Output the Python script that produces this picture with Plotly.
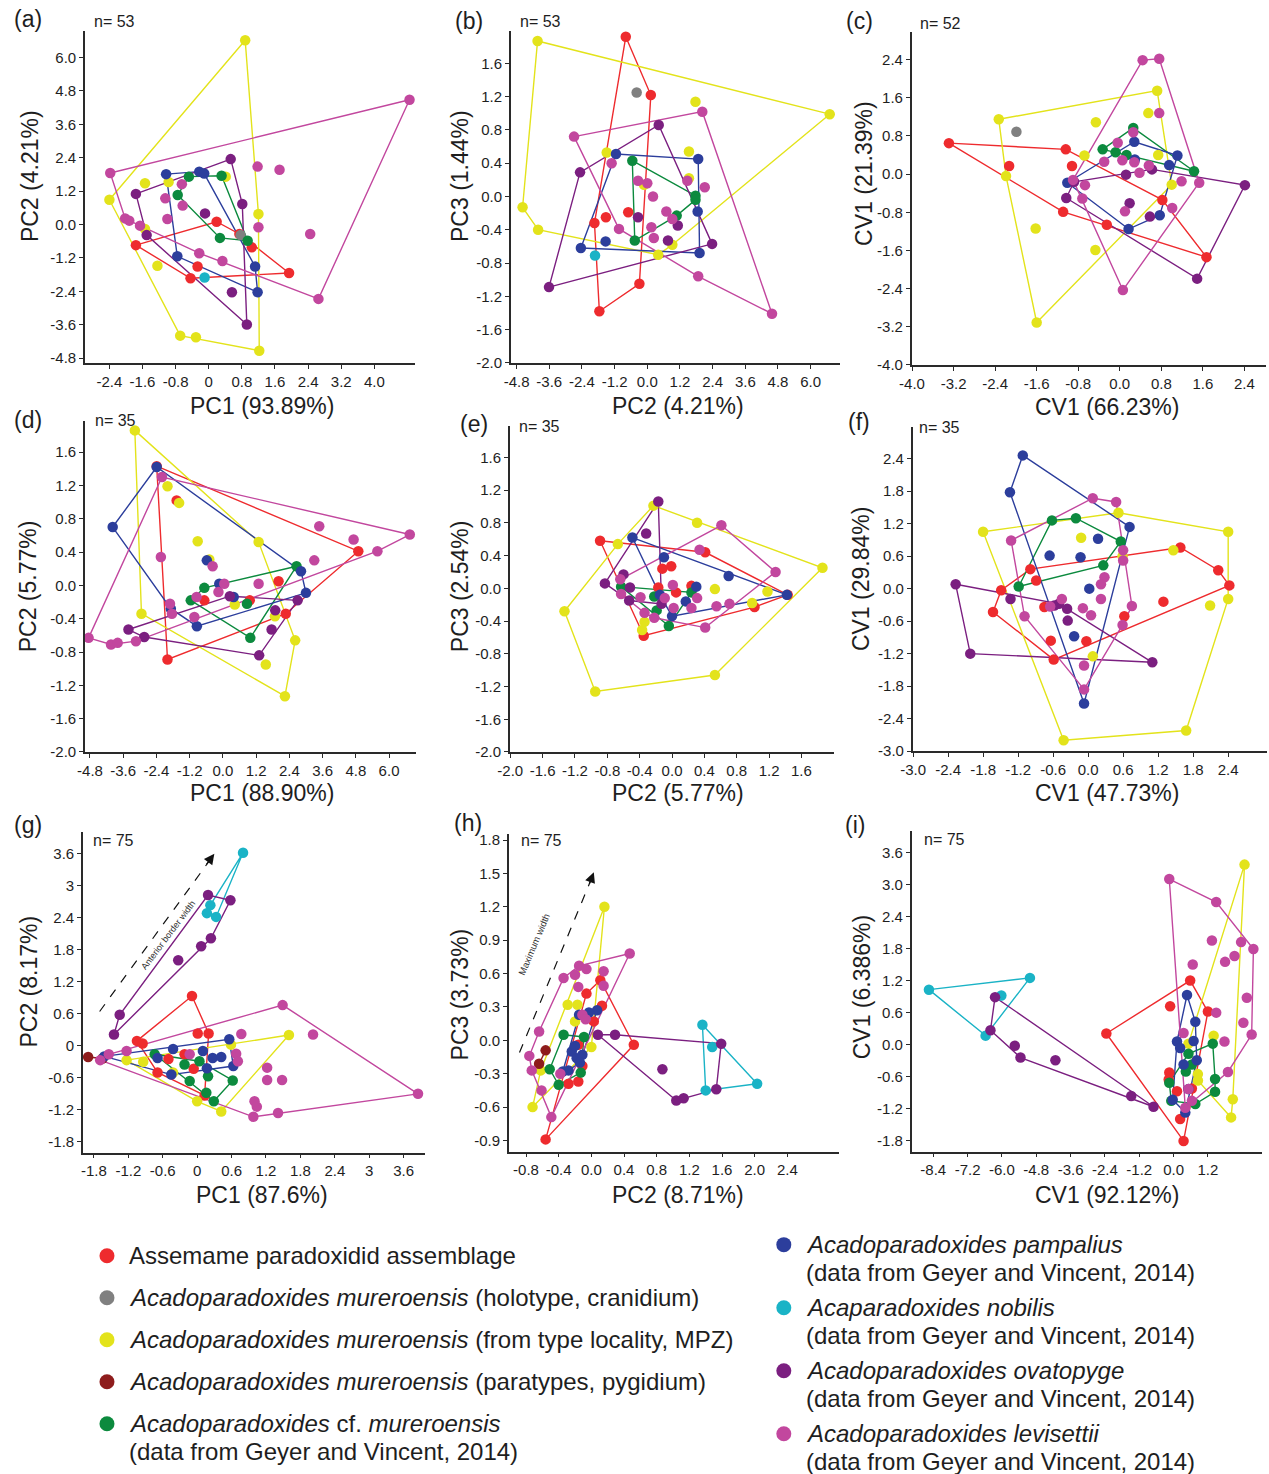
import plotly.graph_objects as go

W, H = 1269, 1474
FONT = "Liberation Sans, Arial, Helvetica, sans-serif"
NARROW = "Liberation Sans Narrow, Liberation Sans, Arial, sans-serif"

GROUPS = ["red", "gray", "yellow", "darkred", "green", "blue", "cyan", "purple", "magenta"]
COLORS = {
    "red": "#EE2B2E", "gray": "#808080", "yellow": "#E3E31B", "darkred": "#8E1C1C",
    "green": "#0C8A3E", "blue": "#2C3E9C", "cyan": "#1AB3C6", "purple": "#7B1F80",
    "magenta": "#C2479E",
}
LEGEND_LABELS = [
    ["Assemame paradoxidid assemblage"],
    ["<i>Acadoparadoxides mureroensis</i> (holotype, cranidium)"],
    ["<i>Acadoparadoxides mureroensis</i> (from type locality, MPZ)"],
    ["<i>Acadoparadoxides mureroensis</i> (paratypes, pygidium)"],
    ["<i>Acadoparadoxides</i> cf. <i>mureroensis</i>", "(data from Geyer and Vincent, 2014)"],
    ["<i>Acadoparadoxides pampalius</i>", "(data from Geyer and Vincent, 2014)"],
    ["<i>Acaparadoxides nobilis</i>", "(data from Geyer and Vincent, 2014)"],
    ["<i>Acadoparadoxides ovatopyge</i>", "(data from Geyer and Vincent, 2014)"],
    ["<i>Acadoparadoxides levisettii</i>", "(data from Geyer and Vincent, 2014)"],
]

# ---------------- data ----------------
DATA_A = {
    "red": [(0.19, 0.10), (-1.76, -0.74), (0.74, -0.34), (1.04, -0.82), (1.94, -1.74), (-0.27, -1.51), (-0.44, -1.93)],
    "gray": [(0.77, -0.38)],
    "yellow": [(0.88, 6.62), (-2.40, 0.89), (-1.54, 1.48), (-0.97, 1.53), (-1.24, -1.48), (-1.54, -0.16),
               (-0.69, -3.99), (-0.31, -4.05), (1.22, -4.53), (1.20, 0.38), (0.41, 1.72)],
    "green": [(-0.48, 1.72), (-0.75, 1.06), (0.27, -0.48), (0.94, -0.58), (0.31, 1.75)],
    "blue": [(-1.03, 1.81), (-0.23, 1.90), (-0.11, 1.83), (-0.76, -1.14), (1.12, -1.51), (1.18, -2.43)],
    "cyan": [(-0.10, -1.90)],
    "purple": [(0.53, 2.35), (-1.76, 1.10), (-1.50, -0.38), (-0.09, 0.40), (0.81, 0.74), (0.56, -2.43), (0.92, -3.59)],
    "magenta": [(-2.38, 1.85), (-2.02, 0.22), (-1.92, 0.14), (-1.66, -0.04), (-1.05, 0.94), (-1.00, 0.20),
                (-0.65, 1.45), (-0.63, 0.68), (-0.23, -1.03), (0.33, -1.31), (1.18, 2.08), (1.71, 1.97),
                (1.20, -0.10), (2.45, -0.34), (2.65, -2.67), (4.85, 4.48)],
}
DATA_B = {
    "red": [(-0.79, 1.92), (0.13, 1.22), (-0.29, -1.05), (-1.76, -1.38), (-1.94, -0.32), (-1.52, -0.25), (-0.70, -0.19)],
    "gray": [(-0.39, 1.25)],
    "yellow": [(-4.03, 1.87), (-4.58, -0.13), (-4.01, -0.40), (-1.49, 0.53), (-0.12, 0.14), (0.40, -0.70),
               (0.92, -0.58), (1.53, 0.54), (1.53, 0.22), (1.77, 1.14), (6.70, 0.99)],
    "green": [(-0.55, 0.43), (1.77, 0.01), (1.77, -0.04), (1.08, -0.23), (-0.46, -0.53)],
    "blue": [(-1.15, 0.51), (1.87, 0.45), (-2.44, -0.62), (-1.53, -0.54), (1.85, -0.18), (1.92, -0.68)],
    "cyan": [(-1.92, -0.71)],
    "purple": [(0.42, 0.86), (-2.47, 0.29), (-3.61, -1.09), (2.38, -0.57), (-0.34, -0.25), (0.76, -0.53), (1.12, -0.35)],
    "magenta": [(-2.69, 0.72), (2.02, 1.02), (4.58, -1.41), (1.87, -0.96), (-1.04, -0.39), (-1.31, 0.40),
                (-0.34, 0.19), (0.0, 0.16), (0.21, 0.0), (0.70, -0.18), (0.92, -0.27), (0.15, -0.37),
                (0.24, -0.50), (1.47, 0.19), (2.11, 0.11)],
}
DATA_C = {
    "red": [(-3.29, 0.65), (-1.04, 0.52), (-2.13, 0.17), (-0.92, 0.17), (-1.09, -0.79), (-0.25, -1.06),
            (0.82, -0.54), (1.67, -1.74)],
    "gray": [(-1.99, 0.89)],
    "yellow": [(-2.33, 1.15), (0.72, 1.75), (-2.19, -0.04), (-1.60, -3.11), (-1.62, -1.14), (-0.47, -1.59),
               (-0.46, 1.09), (-0.68, 0.39), (0.55, 1.28), (0.74, 0.40), (1.0, -0.22)],
    "green": [(-0.33, 0.52), (-0.08, 0.46), (0.13, 0.40), (0.26, 0.97), (1.43, 0.06)],
    "blue": [(0.28, 0.68), (1.11, 0.39), (0.95, 0.19), (-1.01, -0.18), (0.17, -1.15), (0.77, -0.86), (0.29, 0.31)],
    "purple": [(-1.03, -0.50), (2.41, -0.23), (1.49, -2.19), (0.12, -0.01), (0.62, 0.10), (0.19, -0.61),
               (0.58, -0.89), (-0.88, -0.16)],
    "magenta": [(0.44, 2.39), (0.76, 2.42), (0.76, 1.28), (0.06, -2.43), (1.53, -0.18), (1.19, -0.15),
                (1.01, -0.71), (-0.72, -0.51), (-0.67, -0.23), (-0.90, -0.12), (-0.30, 0.26), (-0.04, 0.66),
                (0.05, 0.29), (0.28, 0.25), (0.26, 0.88), (0.38, 0.03), (0.10, -0.78), (0.56, 0.18)],
}
DATA_D = {
    "red": [(-2.39, 1.43), (-1.67, 1.02), (4.89, 0.41), (2.01, 0.05), (2.27, -0.34), (0.97, -0.18),
            (-0.67, -0.18), (-2.0, -0.89)],
    "yellow": [(-3.18, 1.86), (-2.0, 1.19), (-1.58, 0.99), (-0.91, 0.53), (-0.49, 0.31), (1.29, 0.52),
               (0.43, -0.23), (-2.94, -0.34), (1.88, -0.37), (2.61, -0.66), (1.55, -0.95), (2.24, -1.33)],
    "green": [(-0.67, -0.03), (-1.16, -0.18), (0.87, -0.22), (2.66, 0.23), (0.99, -0.63)],
    "blue": [(-2.39, 1.42), (-3.98, 0.70), (2.82, 0.17), (3.0, -0.09), (-0.94, -0.49), (-1.88, -0.28),
             (-0.13, 0.02), (0.39, -0.14), (-0.58, 0.30)],
    "purple": [(-3.41, -0.53), (-2.84, -0.62), (2.70, -0.18), (1.31, -0.84), (1.76, -0.53), (0.25, -0.13), (1.89, -0.30)],
    "magenta": [(-4.85, -0.63), (-4.04, -0.71), (-3.80, -0.69), (-3.14, -0.67), (-2.20, 1.30), (-2.24, 0.34),
                (-1.91, -0.22), (-1.84, -0.34), (-1.03, -0.38), (-0.95, -0.14), (-0.37, 0.23), (0.05, 0.02),
                (-0.16, -0.08), (1.29, 0.02), (3.30, 0.30), (3.48, 0.71), (4.72, 0.55), (5.58, 0.41), (6.75, 0.61)],
}
DATA_E = {
    "red": [(-0.89, 0.58), (0.41, 0.44), (1.43, -0.08), (1.02, -0.23), (-0.35, -0.58), (-0.12, 0.24),
            (-0.01, 0.27), (-0.17, 0.01), (0.05, -0.05), (0.24, 0.03)],
    "yellow": [(-0.23, 1.01), (0.31, 0.80), (1.86, 0.25), (0.53, -1.06), (-0.95, -1.26), (-1.33, -0.28),
               (-0.67, 0.54), (0.53, -0.01), (1.18, -0.04), (0.99, -0.18), (-0.34, -0.41), (-0.37, -0.51)],
    "green": [(-0.63, 0.02), (-0.22, -0.10), (-0.19, -0.27), (0.24, -0.05), (-0.04, -0.46)],
    "blue": [(-0.49, 0.62), (-0.10, 0.38), (0.70, 0.15), (1.42, -0.08), (0.30, 0.02), (0.17, -0.16),
             (0.0, -0.34), (-0.15, -0.08)],
    "purple": [(-0.17, 1.06), (-0.32, 0.67), (-0.83, 0.06), (-0.60, 0.17), (-0.52, 0.01), (-0.53, -0.15), (-0.13, -0.19)],
    "magenta": [(0.61, 0.77), (1.28, 0.20), (0.41, -0.48), (0.34, 0.47), (0.01, 0.04), (0.31, -0.12),
                (0.24, -0.24), (0.02, -0.24), (0.55, -0.22), (0.71, -0.19), (-0.39, -0.11), (-0.34, -0.30),
                (-0.22, -0.36), (-0.09, -0.12), (-0.64, 0.11), (-0.63, -0.07)],
}
DATA_F = {
    "red": [(1.58, 0.76), (2.23, 0.34), (2.42, 0.06), (-0.59, -1.31), (-1.63, -0.43), (-1.49, -0.03),
            (-0.99, 0.36), (-0.89, 0.15), (-0.75, -0.34), (-0.64, -0.96), (-0.03, -0.97), (0.62, -0.51), (1.29, -0.24)],
    "yellow": [(-1.80, 1.05), (0.52, 1.40), (2.40, 1.05), (2.40, -0.19), (1.68, -2.62), (-0.42, -2.80),
               (-0.12, 0.94), (1.46, 0.71), (0.59, 0.60), (2.09, -0.31), (0.08, -1.25)],
    "green": [(-1.19, 0.04), (-0.62, 1.26), (-0.21, 1.30), (0.56, 0.87), (0.26, 0.43)],
    "blue": [(-1.12, 2.46), (-1.34, 1.78), (0.71, 1.14), (-0.07, -2.12), (-0.66, 0.61), (-0.13, 0.58),
             (0.17, 0.92), (0.02, 0.0), (-0.24, -0.88)],
    "purple": [(-2.27, 0.08), (-2.02, -1.20), (1.10, -1.36), (-1.33, -0.19), (-0.58, -0.31), (-0.36, -0.37),
               (-0.35, -0.59), (-0.50, -0.28)],
    "magenta": [(0.08, 1.67), (0.48, 1.60), (-1.32, 0.89), (-1.09, -0.51), (-0.07, -1.86), (-0.07, -1.42),
                (0.59, -0.67), (0.75, -0.32), (0.60, 0.71), (0.60, 0.52), (0.28, 0.21), (0.22, 0.08),
                (0.22, -0.19), (-0.45, -0.19), (-0.65, -0.33), (-0.09, -0.36), (0.05, -0.49)],
}
DATA_G = {
    "red": [(-0.09, 0.93), (0.01, 0.23), (0.20, 0.23), (-1.05, 0.09), (-0.95, 0.04), (-0.69, -0.50),
            (-0.22, -0.16), (-0.06, -0.43), (0.13, -0.93), (-0.50, -0.25)],
    "yellow": [(-1.23, -0.27), (-0.94, -0.30), (-0.42, -0.50), (0.0, -1.04), (0.42, -1.23), (0.59, 0.02), (1.60, 0.20)],
    "darkred": [(-1.90, -0.21), (-1.65, -0.24)],
    "green": [(-0.74, -0.16), (-0.13, -0.66), (0.16, -0.88), (0.29, -1.04), (0.62, -0.65), (0.04, -0.29),
              (-0.22, -0.35), (0.19, -0.57)],
    "blue": [(0.56, 0.12), (-0.42, -0.06), (-0.69, -0.23), (-0.45, -0.54), (0.63, -0.38), (0.27, -0.23),
             (0.42, -0.21), (0.10, -0.10), (0.17, -0.42), (-1.62, -0.20)],
    "cyan": [(0.80, 3.61), (0.23, 2.63), (0.17, 2.48), (0.33, 2.41)],
    "purple": [(0.19, 2.82), (0.58, 2.72), (0.24, 2.01), (0.07, 1.86), (-0.33, 1.60), (-1.35, 0.58), (-1.45, 0.21)],
    "magenta": [(-1.69, -0.27), (-1.54, -0.16), (-1.23, -0.10), (1.49, 0.76), (3.85, -0.90), (1.41, -1.26),
                (0.98, -1.33), (1.04, -1.14), (1.00, -1.04), (0.77, 0.22), (2.02, 0.21), (1.22, -0.41),
                (1.22, -0.64), (1.48, -0.64), (0.68, -0.15), (0.71, -0.29), (-0.13, -0.16)],
}
DATA_H = {
    "red": [(0.11, 0.54), (0.13, 0.31), (-0.06, 0.42), (0.52, -0.04), (-0.56, -0.89), (-0.16, -0.04),
            (-0.16, -0.37), (-0.28, -0.39), (-0.11, -0.23), (0.03, 0.17)],
    "yellow": [(0.16, 1.20), (-0.72, -0.60), (-0.29, 0.32), (-0.17, 0.32), (-0.20, 0.17), (0.0, -0.06), (-0.62, -0.27)],
    "darkred": [(-0.56, -0.09), (-0.64, -0.21)],
    "green": [(-0.34, 0.05), (-0.09, 0.03), (-0.51, -0.26), (-0.40, -0.40), (-0.13, -0.29)],
    "blue": [(0.07, 0.27), (-0.03, 0.25), (-0.24, -0.10), (-0.18, -0.16), (-0.11, -0.13), (-0.35, -0.28),
             (-0.28, -0.27), (-0.15, 0.23), (-0.20, -0.05), (-0.14, -0.20)],
    "cyan": [(1.36, 0.14), (1.48, -0.06), (2.03, -0.39), (1.40, -0.45)],
    "purple": [(0.08, 0.05), (0.29, 0.05), (1.59, -0.03), (1.53, -0.44), (1.13, -0.52), (1.04, -0.54), (0.87, -0.26)],
    "magenta": [(0.47, 0.78), (0.15, 0.62), (0.15, 0.49), (-0.15, 0.67), (-0.06, 0.64), (-0.20, 0.59),
                (-0.34, 0.56), (-0.16, 0.48), (-0.64, 0.08), (-0.76, -0.14), (-0.73, -0.27), (-0.61, -0.45),
                (-0.49, -0.69), (-0.38, -0.30), (-0.11, 0.23), (-0.07, 0.19)],
}
DATA_I = {
    "red": [(-2.35, 0.21), (0.58, 1.20), (1.20, 0.62), (0.35, -1.80), (-0.12, 0.72), (-0.15, -0.52),
            (-0.17, -0.65), (0.12, -0.87), (0.23, -1.39), (0.64, -0.82)],
    "yellow": [(2.48, 3.37), (0.52, 0.02), (0.85, -0.55), (0.85, -0.67), (1.40, 0.17), (2.07, -1.02), (2.01, -1.36)],
    "green": [(1.37, 0.02), (1.45, -0.64), (1.45, -0.88), (-0.15, -0.71), (-0.08, -1.05), (0.52, -0.17),
              (0.64, -0.37), (0.43, -0.50), (0.76, -1.11)],
    "blue": [(0.47, 0.93), (0.76, 0.43), (0.12, 0.06), (0.23, -0.06), (0.70, 0.07), (0.81, -0.29),
             (0.35, -0.37), (-0.03, -1.03), (0.41, -1.27), (0.52, -0.83)],
    "cyan": [(-8.55, 1.03), (-5.02, 1.25), (-6.02, 0.92), (-6.57, 0.17)],
    "purple": [(-6.24, 0.89), (-6.40, 0.27), (-5.55, -0.02), (-5.35, -0.24), (-4.13, -0.29), (-1.48, -0.96), (-0.70, -1.16)],
    "magenta": [(-0.15, 3.10), (1.49, 2.67), (2.79, 1.79), (2.73, 0.19), (2.36, 1.92), (1.34, 1.95),
                (1.80, 1.55), (2.13, 1.66), (0.67, 1.50), (2.56, 0.88), (2.44, 0.41), (1.49, 0.60),
                (1.78, 0.06), (1.90, -0.51), (0.35, 0.22), (0.52, -0.83), (0.41, -1.18), (0.64, -1.05)],
}

# ---------------- tick values / labels ----------------
A_XT = [-2.4, -1.6, -0.8, 0, 0.8, 1.6, 2.4, 3.2, 4.0]
A_XL = ["-2.4", "-1.6", "-0.8", "0", "0.8", "1.6", "2.4", "3.2", "4.0"]
A_YT = [-4.8, -3.6, -2.4, -1.2, 0, 1.2, 2.4, 3.6, 4.8, 6.0]
A_YL = ["-4.8", "-3.6", "-2.4", "-1.2", "0.0", "1.2", "2.4", "3.6", "4.8", "6.0"]
B_XT = [-4.8, -3.6, -2.4, -1.2, 0, 1.2, 2.4, 3.6, 4.8, 6.0]
B_XL = ["-4.8", "-3.6", "-2.4", "-1.2", "0.0", "1.2", "2.4", "3.6", "4.8", "6.0"]
B_YT = [-2.0, -1.6, -1.2, -0.8, -0.4, 0, 0.4, 0.8, 1.2, 1.6]
B_YL = ["-2.0", "-1.6", "-1.2", "-0.8", "-0.4", "0.0", "0.4", "0.8", "1.2", "1.6"]
C_XT = [-4.0, -3.2, -2.4, -1.6, -0.8, 0, 0.8, 1.6, 2.4]
C_XL = ["-4.0", "-3.2", "-2.4", "-1.6", "-0.8", "0.0", "0.8", "1.6", "2.4"]
C_YT = C_XT
C_YL = C_XL
D_XT, D_XL, D_YT, D_YL = B_XT, B_XL, B_YT, B_YL
E_XT = [-2.0, -1.6, -1.2, -0.8, -0.4, 0, 0.4, 0.8, 1.2, 1.6]
E_XL = ["-2.0", "-1.6", "-1.2", "-0.8", "-0.4", "0.0", "0.4", "0.8", "1.2", "1.6"]
E_YT, E_YL = B_YT, B_YL
F_XT = [-3.0, -2.4, -1.8, -1.2, -0.6, 0, 0.6, 1.2, 1.8, 2.4]
F_XL = ["-3.0", "-2.4", "-1.8", "-1.2", "-0.6", "0.0", "0.6", "1.2", "1.8", "2.4"]
F_YT, F_YL = F_XT, F_XL
G_XT = [-1.8, -1.2, -0.6, 0, 0.6, 1.2, 1.8, 2.4, 3.0, 3.6]
G_XL = ["-1.8", "-1.2", "-0.6", "0", "0.6", "1.2", "1.8", "2.4", "3", "3.6"]
G_YT, G_YL = G_XT, G_XL
H_XT = [-0.8, -0.4, 0, 0.4, 0.8, 1.2, 1.6, 2.0, 2.4]
H_XL = ["-0.8", "-0.4", "0.0", "0.4", "0.8", "1.2", "1.6", "2.0", "2.4"]
H_YT = [-0.9, -0.6, -0.3, 0, 0.3, 0.6, 0.9, 1.2, 1.5, 1.8]
H_YL = ["-0.9", "-0.6", "-0.3", "0.0", "0.3", "0.6", "0.9", "1.2", "1.5", "1.8"]
I_XT = [-8.4, -7.2, -6.0, -4.8, -3.6, -2.4, -1.2, 0, 1.2]
I_XL = ["-8.4", "-7.2", "-6.0", "-4.8", "-3.6", "-2.4", "-1.2", "0.0", "1.2"]
I_YT = [-1.8, -1.2, -0.6, 0, 0.6, 1.2, 1.8, 2.4, 3.0, 3.6]
I_YL = ["-1.8", "-1.2", "-0.6", "0.0", "0.6", "1.2", "1.8", "2.4", "3.0", "3.6"]

PANELS = [
    dict(lab="(a)", n="n= 53", xt="PC1 (93.89%)", yt="PC2 (4.21%)", data=DATA_A,
         box=(82, 412, 32, 364), xr=(-2.99, 4.98), yr=(-4.98, 6.95), ticks=(A_XT, A_XL, A_YT, A_YL)),
    dict(lab="(b)", n="n= 53", xt="PC2 (4.21%)", yt="PC3 (1.44%)", data=DATA_B,
         box=(508, 837, 32, 364), xr=(-5.01, 7.07), yr=(-2.005, 1.99), ticks=(B_XT, B_XL, B_YT, B_YL)),
    dict(lab="(c)", n="n= 52", xt="CV1 (66.23%)", yt="CV1 (21.39%)", data=DATA_C,
         box=(909, 1263, 33, 366), xr=(-4.005, 2.81), yr=(-4.005, 2.98), ticks=(C_XT, C_XL, C_YT, C_YL)),
    dict(lab="(d)", n="n= 35", xt="PC1 (88.90%)", yt="PC2 (5.77%)", data=DATA_D,
         box=(82, 413, 422, 753), xr=(-4.98, 6.97), yr=(-2.005, 1.97), ticks=(D_XT, D_XL, D_YT, D_YL)),
    dict(lab="(e)", n="n= 35", xt="PC2 (5.77%)", yt="PC3 (2.54%)", data=DATA_E,
         box=(507, 831, 427, 753), xr=(-2.005, 2.0), yr=(-2.005, 1.98), ticks=(E_XT, E_XL, E_YT, E_YL)),
    dict(lab="(f)", n="n= 35", xt="CV1 (47.73%)", yt="CV1 (29.84%)", data=DATA_F,
         box=(910, 1264, 428, 752), xr=(-3.005, 3.06), yr=(-3.005, 2.98), ticks=(F_XT, F_XL, F_YT, F_YL)),
    dict(lab="(g)", n="n= 75", xt="PC1 (87.6%)", yt="PC2 (8.17%)", data=DATA_G,
         box=(80, 422, 833, 1153), xr=(-1.99, 3.97), yr=(-2.0, 3.99), ticks=(G_XT, G_XL, G_YT, G_YL)),
    dict(lab="(h)", n="n= 75", xt="PC2 (8.71%)", yt="PC3 (3.73%)", data=DATA_H,
         box=(506, 836, 835, 1152), xr=(-1.01, 3.03), yr=(-1.0, 1.85), ticks=(H_XT, H_XL, H_YT, H_YL)),
    dict(lab="(i)", n="n= 75", xt="CV1 (92.12%)", yt="CV1 (6.386%)", data=DATA_I,
         box=(909, 1259, 832, 1152), xr=(-9.15, 3.08), yr=(-2.0, 3.99), ticks=(I_XT, I_XL, I_YT, I_YL)),
]

# the photographed page appears slightly offset/scaled; map target picture pixels to figure pixels
OFF_X, SC_X, OFF_Y, SC_Y = 10.0, 0.990, 4.0, 0.992


def fx(x):
    return (x - OFF_X) / SC_X


def fy(y):
    return (y - OFF_Y) / SC_Y


def px(x, y):
    return fx(x) / W, 1 - fy(y) / H


def hull(points):
    pts = sorted(set(points))
    if len(pts) < 3:
        return pts

    def cross(o, a, b):
        return (a[0] - o[0]) * (b[1] - o[1]) - (a[1] - o[1]) * (b[0] - o[0])

    lower = []
    for p in pts:
        while len(lower) >= 2 and cross(lower[-2], lower[-1], p) <= 0:
            lower.pop()
        lower.append(p)
    upper = []
    for p in reversed(pts):
        while len(upper) >= 2 and cross(upper[-2], upper[-1], p) <= 0:
            upper.pop()
        upper.append(p)
    h = lower[:-1] + upper[:-1]
    return h + [h[0]]


fig = go.Figure()
annotations = []
shapes = []
layout_axes = {}
TXT = "#1e1e1e"

for k, P in enumerate(PANELS, 1):
    sfx = "" if k == 1 else str(k)
    xa, ya = "x" + sfx, "y" + sfx
    x0, x1, yt, yb = P["box"]
    xT, xL, yT, yL = P["ticks"]
    common = dict(showgrid=False, zeroline=False, showline=True, linecolor="#2a2a2a", linewidth=1.6,
                  ticks="outside", ticklen=4, tickwidth=1.2, tickcolor="#2a2a2a",
                  tickfont=dict(family=FONT, size=15, color=TXT), fixedrange=True)
    layout_axes["xaxis" + sfx] = dict(domain=[fx(x0) / W, min(fx(x1) / W, 1.0)], range=list(P["xr"]), anchor=ya,
                                      tickvals=xT, ticktext=xL, **common)
    layout_axes["yaxis" + sfx] = dict(domain=[1 - fy(yb) / H, 1 - fy(yt) / H], range=list(P["yr"]), anchor=xa,
                                      tickvals=yT, ticktext=yL, **common)
    for g in GROUPS:
        pts = P["data"].get(g)
        if pts and len(pts) >= 2:
            h = hull(pts)
            fig.add_trace(go.Scatter(x=[p[0] for p in h], y=[p[1] for p in h], mode="lines",
                                     line=dict(color=COLORS[g], width=1.4), xaxis=xa, yaxis=ya,
                                     hoverinfo="skip", showlegend=False, cliponaxis=False))
    for g in GROUPS:
        pts = P["data"].get(g)
        if pts:
            fig.add_trace(go.Scatter(x=[p[0] for p in pts], y=[p[1] for p in pts], mode="markers",
                                     marker=dict(color=COLORS[g], size=10.5, line=dict(width=0)),
                                     xaxis=xa, yaxis=ya, showlegend=False, cliponaxis=False, name=g))
    lab_pos = {1: (25, 20), 2: (466, 22), 3: (857, 22), 4: (25, 421), 5: (471, 425), 6: (856, 423),
               7: (25, 826), 8: (465, 824), 9: (852, 826)}[k]
    n_pos = {1: (112, 22), 2: (538, 22), 3: (938, 24), 4: (113, 421), 5: (537, 427), 6: (937, 428),
             7: (111, 841), 8: (539, 841), 9: (942, 840)}[k]
    xt_pos = {1: (259, 407), 2: (675, 407), 3: (1104, 408), 4: (259, 794), 5: (675, 794), 6: (1104, 794),
              7: (259, 1195), 8: (675, 1195), 9: (1104, 1195)}[k]
    yt_pos = {1: (27, 177), 2: (457, 177), 3: (861, 175), 4: (25, 587), 5: (457, 587), 6: (859, 580),
              7: (26, 982), 8: (457, 995), 9: (859, 988)}[k]
    ax_, ay_ = px(*lab_pos)
    annotations.append(dict(text=P["lab"], x=ax_, y=ay_, xref="paper", yref="paper", showarrow=False,
                            xanchor="center", yanchor="middle", font=dict(family=FONT, size=23, color=TXT)))
    ax_, ay_ = px(*n_pos)
    annotations.append(dict(text=P["n"], x=ax_, y=ay_, xref="paper", yref="paper", showarrow=False,
                            xanchor="center", yanchor="middle", font=dict(family=NARROW, size=16, color=TXT)))
    ax_, ay_ = px(*xt_pos)
    annotations.append(dict(text=P["xt"], x=ax_, y=ay_, xref="paper", yref="paper", showarrow=False,
                            xanchor="center", yanchor="middle", font=dict(family=FONT, size=23, color=TXT)))
    ax_, ay_ = px(*yt_pos)
    annotations.append(dict(text=P["yt"], x=ax_, y=ay_, xref="paper", yref="paper", showarrow=False,
                            textangle=-90, xanchor="center", yanchor="middle",
                            font=dict(family=FONT, size=23, color=TXT)))

# dashed arrows in (g) and (h)
shapes.append(dict(type="line", xref="x7", yref="y7", x0=-1.70, y0=0.64, x1=0.24, y1=3.50,
                   line=dict(color="#111", width=1.2, dash="dash")))
annotations.append(dict(x=0.30, y=3.59, xref="x7", yref="y7", text="", showarrow=True, ax=-9, ay=12,
                        arrowhead=2, arrowsize=1.6, arrowwidth=1.3, arrowcolor="#111"))
shapes.append(dict(type="line", xref="x8", yref="y8", x0=-0.88, y0=-0.11, x1=0.0, y1=1.45,
                   line=dict(color="#111", width=1.2, dash="dash")))
annotations.append(dict(x=0.03, y=1.51, xref="x8", yref="y8", text="", showarrow=True, ax=-5, ay=13,
                        arrowhead=2, arrowsize=1.6, arrowwidth=1.3, arrowcolor="#111"))
ax_, ay_ = px(133, 935)
annotations.append(dict(text="Anterior border width", x=ax_, y=ay_, xref="paper", yref="paper", showarrow=False,
                        textangle=-53, font=dict(family=FONT, size=9, color="#333")))
ax_, ay_ = px(531, 980)
annotations.append(dict(text="Maximum width", x=ax_, y=ay_, xref="paper", yref="paper", showarrow=False,
                        textangle=-67, font=dict(family=FONT, size=9.5, color="#333")))

# legend (drawn on a transparent full-figure overlay axis)
LEG_LEFT_Y = [1256, 1298, 1340, 1382, 1424]
LEG_RIGHT_Y = [1245, 1308, 1371, 1434]
leg_pos = [(104, y) for y in LEG_LEFT_Y] + [(781, y) for y in LEG_RIGHT_Y]
fig.add_trace(go.Scatter(x=[fx(p[0]) for p in leg_pos], y=[fy(p[1]) for p in leg_pos], mode="markers",
                         marker=dict(color=[COLORS[g] for g in GROUPS], size=15, line=dict(width=0)),
                         xaxis="x10", yaxis="y10", showlegend=False, hoverinfo="skip"))
layout_axes["xaxis10"] = dict(domain=[0, 1], range=[0, W], visible=False, fixedrange=True, anchor="y10")
layout_axes["yaxis10"] = dict(domain=[0, 1], range=[H, 0], visible=False, fixedrange=True, anchor="x10")
for (lx, ly), lines in zip(leg_pos, LEGEND_LABELS):
    for j, line in enumerate(lines):
        ax_, ay_ = px(lx + 20, ly + 28 * j)
        annotations.append(dict(text=line, x=ax_, y=ay_, xref="paper", yref="paper", showarrow=False,
                                xanchor="left", yanchor="middle",
                                font=dict(family=FONT, size=24, color=TXT)))

fig.update_layout(width=W, height=H, margin=dict(l=0, r=0, t=0, b=0), plot_bgcolor="rgba(0,0,0,0)",
                  paper_bgcolor="white", showlegend=False, annotations=annotations, shapes=shapes,
                  font=dict(family=FONT), **layout_axes)
fig.write_html("out.html")
